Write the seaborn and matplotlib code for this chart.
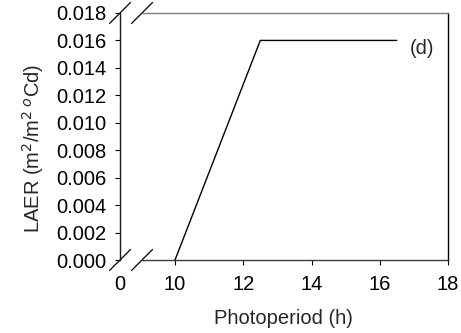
import matplotlib
matplotlib.use("Agg")
import matplotlib.pyplot as plt
import seaborn as sns
import pandas as pd

# Data
photoperiod = [10, 12.5, 16.5]
laer = [0.0, 0.016, 0.016]
x_tick_values = [10, 12, 14, 16, 18]
x_tick_labels = ["10", "12", "14", "16", "18"]
y_tick_values = [0.000, 0.002, 0.004, 0.006, 0.008, 0.010, 0.012, 0.014, 0.016, 0.018]
panel_label = "(d)"

sns.set_theme(style="white")
plt.rcParams['font.family'] = ['Liberation Sans', 'DejaVu Sans']

FS = 14.5

fig = plt.figure(figsize=(4.61, 3.33), dpi=100)
ax = fig.add_axes([0.2603, 0.2192, 0.9718 - 0.2603, 0.961 - 0.2192])

df = pd.DataFrame({"Photoperiod": photoperiod, "LAER": laer})
sns.lineplot(data=df, x="Photoperiod", y="LAER", ax=ax, color="black", linewidth=1.0)

x_break = 8.388  # position representing the "0" on the broken axis
ax.set_xlim(x_break, 18)
ax.set_ylim(0, 0.018)

ax.set_xticks([x_break] + x_tick_values)
ax.set_xticklabels(["0"] + x_tick_labels)
ax.set_yticks(y_tick_values)
ax.set_yticklabels([f"{v:.3f}" for v in y_tick_values])

ax.tick_params(axis="both", which="both", direction="out", length=3.5, width=0.8,
               colors="black", labelsize=FS)
ax.tick_params(axis="y", left=True, pad=6)
ax.tick_params(axis="x", bottom=True, pad=7)
ax.xaxis.get_major_ticks()[0].tick1line.set_visible(False)

ax.set_xlabel("Photoperiod (h)", fontsize=FS, va="center")
ax.set_ylabel("LAER (m$^2$/m$^2$$\\,^o$Cd)", fontsize=FS, va="center")
ax.xaxis.set_label_coords(0.497, -0.235)
ax.yaxis.set_label_coords(-0.265, 0.453)

for side, col in [("left", "#1a1a1a"), ("bottom", "#3a3a3a"), ("top", "#7f7f7f"), ("right", "black")]:
    ax.spines[side].set_visible(True)
    ax.spines[side].set_color(col)
    ax.spines[side].set_linewidth(1.0)
ax.spines["bottom"].set_bounds(9.03, 18)
ax.spines["top"].set_bounds(9.03, 18)

# break marks (in axes coordinates)
w_ax = 448 - 120
h_ax = 260 - 13
dx = 10.5 / w_ax
dy = 10.5 / h_ax
for yc in (0.0, 1.0):
    for xc in (0.0, 22 / w_ax):
        ax.plot([xc - dx, xc + dx], [yc - dy, yc + dy], transform=ax.transAxes,
                color="black", linewidth=0.9, clip_on=False)

ax.text(17.24, 0.0154, panel_label, fontsize=FS, ha="center", va="center")
ax.grid(False)

fig.savefig("out.png", dpi=100)
